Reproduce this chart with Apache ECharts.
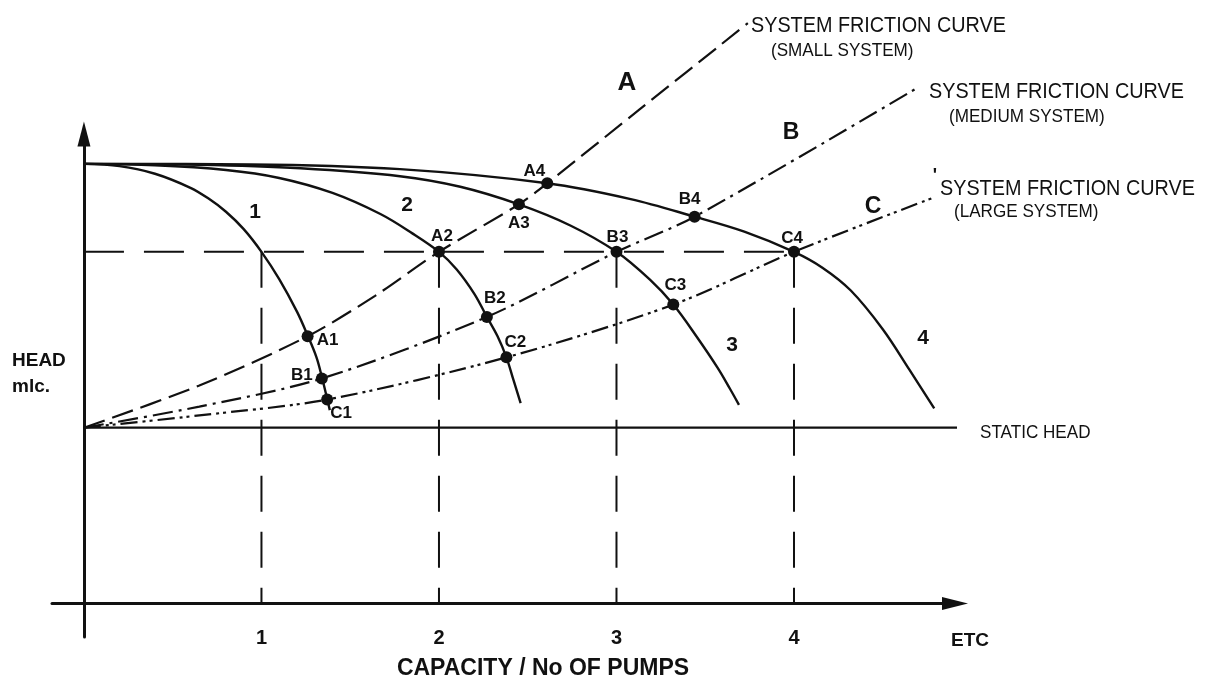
<!DOCTYPE html>
<html><head><meta charset="utf-8">
<script src="https://cdn.jsdelivr.net/npm/echarts@6/dist/echarts.min.js"></script>
<style>html,body{margin:0;padding:0;background:#fff}#c{width:1206px;height:683px}</style>
</head><body><div id="c"></div>
<script>
// ---------- data ----------
const tickValues = [1, 2, 3, 4];
const pump1 = [[0,2.5],[0.2,2.487],[0.4,2.444],[0.6,2.364],[0.7,2.304],[0.8,2.228],[0.9,2.129],[1.0,2.0],[1.1,1.845],[1.2,1.66],[1.26,1.525],[1.31,1.40],[1.34,1.29],[1.37,1.165],[1.385,1.10]];
const pump2 = [[0,2.5],[0.4,2.492],[0.8,2.465],[1.1,2.42],[1.4,2.335],[1.67,2.215],[1.85,2.105],[2.0,2.0],[2.1,1.90],[2.2,1.76],[2.27,1.63],[2.33,1.52],[2.38,1.40],[2.42,1.27],[2.46,1.14]];
const pump3 = [[0,2.5],[0.65,2.495],[1.22,2.475],[1.78,2.43],[2.12,2.37],[2.45,2.27],[2.74,2.15],[3.0,2.0],[3.19,1.84],[3.32,1.70],[3.45,1.52],[3.57,1.34],[3.64,1.22],[3.69,1.13]];
const pump4 = [[0,2.5],[0.94,2.497],[1.78,2.47],[2.61,2.39],[3.08,2.30],[3.44,2.20],[3.72,2.115],[4.0,2.0],[4.16,1.91],[4.32,1.78],[4.5,1.56],[4.65,1.33],[4.79,1.11]];
const systemA = [[0,1.0],[0.65,1.24],[1.26,1.52],[1.64,1.75],[2.0,2.0],[2.45,2.27],[2.61,2.39],[3.13,2.81],[3.74,3.30]];
const systemB = [[0,1.0],[0.65,1.12],[1.34,1.28],[2.27,1.63],[3.0,2.0],[3.44,2.20],[4.69,2.93]];
const systemC = [[0,1.0],[0.65,1.07],[1.37,1.16],[2.38,1.40],[3.32,1.70],[4.0,2.0],[4.79,2.31]];
const pointNames = ['A1','B1','C1','A2','B2','C2','A3','B3','C3','A4','B4','C4'];
const pointX = [1.26,1.34,1.37,2.0,2.27,2.38,2.45,3.0,3.32,2.61,3.44,4.0];
const pointY = [1.52,1.28,1.16,2.0,1.63,1.40,2.27,2.0,1.70,2.39,2.20,2.0];
const staticHead = 1.0;
const staticHeadEnd = 4.98;
const dutyHead = 2.0;
const dutyCapacities = [1, 2, 3, 4];

// ---------- styling ----------
const INK = '#111';
const labelOffsets = {
  A1:[20,4], B1:[-20,-3], C1:[14,14], A2:[3,-16], B2:[8,-19], C2:[9,-15],
  A3:[0,19], B3:[1,-15], C3:[2,-19], A4:[-13,-12], B4:[-5,-17], C4:[-2,-14]
};
const FONT = '"Liberation Sans", Arial, sans-serif';

function lineSeries(data, type, width, smooth) {
  return {
    type: 'line', data: data, showSymbol: false, symbol: 'none', smooth: smooth,
    clip: false, silent: true, z: 3,
    lineStyle: { color: INK, width: width, type: type, cap: 'butt' }
  };
}

const series = [];
[pump1, pump2, pump3, pump4].forEach(d => series.push(lineSeries(d, 'solid', 2.4, 0.35)));
series.push(lineSeries(systemA, [22, 8], 2.2, 0.3));
series.push(lineSeries(systemB, [20, 6, 3, 6], 2.2, 0.3));
series.push(lineSeries(systemC, [17, 5, 3, 4, 3, 5], 2.2, 0.3));
series.push(lineSeries([[0, staticHead], [staticHeadEnd, staticHead]], 'solid', 2.2, false));
series.push(lineSeries([[0, dutyHead], [dutyCapacities[dutyCapacities.length-1], dutyHead]], [40, 20], 2, false));
dutyCapacities.forEach(q => {
  series.push(lineSeries([[q, dutyHead], [q, 0]], [36, 20], 2, false));
});
series.push({
  type: 'scatter', silent: true, z: 5, clip: false,
  symbol: 'circle', symbolSize: 12,
  itemStyle: { color: INK, opacity: 1 },
  data: pointNames.map((n, i) => ({
    value: [pointX[i], pointY[i]], name: n,
    label: { show: true, position: 'inside', offset: labelOffsets[n], formatter: n,
      color: INK, textBorderWidth: 0, fontFamily: FONT, fontWeight: 'bold', fontSize: 17 }
  }))
});

function txt(text, x, y, font, align, sx) {
  return { type: 'text', x: x, y: y, silent: true, z: 10, scaleX: sx || 1,
    style: { text: text, font: font, fill: INK, align: align || 'center', verticalAlign: 'middle',
      textAlign: align || 'center', textVerticalAlign: 'middle' } };
}

const graphics = [
  txt('1', 255, 212, 'bold 21px ' + FONT),
  txt('2', 407, 205, 'bold 21px ' + FONT),
  txt('3', 732, 345, 'bold 21px ' + FONT),
  txt('4', 923, 338, 'bold 21px ' + FONT),
  txt('A', 627, 83, 'bold 26px ' + FONT),
  txt('B', 791, 133, 'bold 23px ' + FONT),
  txt('C', 873, 207, 'bold 23px ' + FONT),
  txt('SYSTEM FRICTION CURVE', 751, 26, '22px ' + FONT, 'left', 0.9),
  txt('(SMALL SYSTEM)', 771, 51, '19px ' + FONT, 'left', 0.9),
  txt('SYSTEM FRICTION CURVE', 929, 92, '22px ' + FONT, 'left', 0.9),
  txt('(MEDIUM SYSTEM)', 949, 117, '19px ' + FONT, 'left', 0.9),
  txt("'", 935, 176, 'bold 18px ' + FONT),
  txt('SYSTEM FRICTION CURVE', 940, 189, '22px ' + FONT, 'left', 0.9),
  txt('(LARGE SYSTEM)', 954, 212, '19px ' + FONT, 'left', 0.9),
  txt('STATIC HEAD', 980, 433, '19px ' + FONT, 'left', 0.9),
  txt('HEAD', 12, 361, 'bold 19px ' + FONT, 'left'),
  txt('mlc.', 12, 387, 'bold 19px ' + FONT, 'left'),
  txt('ETC', 970, 641, 'bold 19px ' + FONT),
  txt('CAPACITY / No OF PUMPS', 543, 669, 'bold 23px ' + FONT)
];

const chart = echarts.init(document.getElementById('c'), null, { renderer: 'canvas' });
chart.setOption({
  animation: false,
  backgroundColor: '#fff',
  grid: { left: 52, right: 251, top: 134, bottom: 46, containLabel: false },
  xAxis: {
    type: 'value', min: -0.18, max: 4.907,
    splitLine: { show: false },
    axisTick: { show: false },
    axisLine: { show: true, onZero: true, symbol: ['none', 'triangle'], symbolSize: [13, 26],
      lineStyle: { color: INK, width: 3 } },
    axisLabel: { show: true, customValues: tickValues, margin: -9, color: INK,
      fontFamily: FONT, fontWeight: 'bold', fontSize: 20 }
  },
  yAxis: {
    type: 'value', min: -0.19, max: 2.67,
    splitLine: { show: false },
    axisTick: { show: false },
    axisLabel: { show: false },
    axisLine: { show: true, onZero: true, symbol: ['none', 'triangle'], symbolSize: [13, 25],
      lineStyle: { color: INK, width: 3 } }
  },
  series: series,
  graphic: graphics
});
</script>
</body></html>
